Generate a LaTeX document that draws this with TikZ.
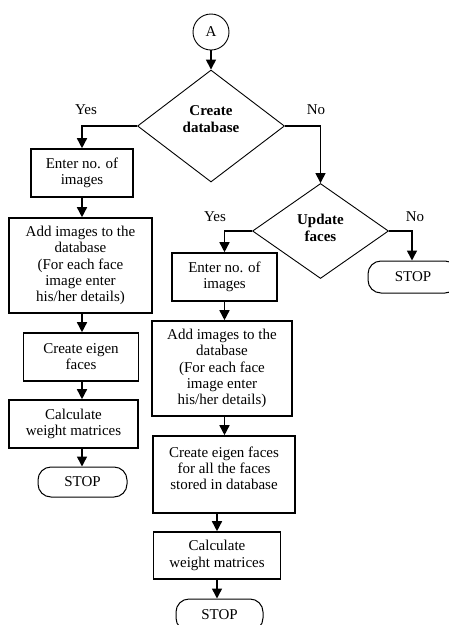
\documentclass[tikz,border=0pt]{standalone}
\usepackage{fontspec}
\setmainfont{Liberation Serif}
\usetikzlibrary{shapes.geometric,arrows.meta}
\begin{document}
\begin{tikzpicture}[x=1pt,y=-1pt,
  every node/.style={font=\fontsize{15}{16.2}\selectfont},
  box/.style={draw,line width=1.6pt,inner sep=0pt,align=center},
  dec/.style={draw,diamond,line width=0.9pt,inner sep=0pt},
  dtext/.style={align=center,font=\fontsize{15}{17}\selectfont\bfseries},
  term/.style={draw,rounded corners=13pt,line width=1pt,inner sep=0pt},
  conn/.style={draw,circle,line width=0.9pt,inner sep=0pt,minimum size=36pt},
  arr/.style={line width=1.5pt,-{Triangle[length=10pt,width=10pt]}},
  lbl/.style={inner sep=0pt}
]
\useasboundingbox (0,0) rectangle (448,625);

% connector
\node[conn] (A) at (211,32) {A};

% decisions
\node[dec,minimum width=147pt,minimum height=112pt,
  label={[dtext,yshift=7pt]center:Create\\database}] (D1) at (211,126) {};
\node[dec,minimum width=136pt,minimum height=95pt,
  label={[dtext,yshift=3.5pt]center:Update\\faces}] (D2) at (320.5,231) {};

% left column
\node[box,minimum width=102pt,minimum height=48pt] (L1) at (82,173) {Enter no. of\\images};
\node[box,minimum width=143pt,minimum height=95pt] (L2) at (80.5,265.5)
  {Add images to the\\database\\(For each face\\image enter\\his/her details)};
\node[box,minimum width=115pt,minimum height=48pt] (L3) at (81,357) {Create eigen\\faces};
\node[box,minimum width=129pt,minimum height=48pt] (L4) at (73.5,424) {Calculate\\weight matrices};
\node[term,minimum width=89pt,minimum height=30pt] (LS) at (82.5,482) {STOP};

% right column
\node[box,minimum width=105pt,minimum height=48pt] (R1) at (224.5,277) {Enter no. of\\images};
\node[box,minimum width=140pt,minimum height=95pt] (R2) at (222,368.5)
  {Add images to the\\database\\(For each face\\image enter\\his/her details)};
\node[box,minimum width=142pt,minimum height=77pt,
  label={[align=center,yshift=6pt]center:Create eigen faces\\for all the faces\\stored in database}] (R3) at (224,474.5) {};
\node[box,minimum width=127pt,minimum height=47pt] (R4) at (217,555.5) {Calculate\\weight matrices};
\node[term,minimum width=87pt,minimum height=32pt] (RS) at (219.5,615) {STOP};
\node[term,minimum width=90pt,minimum height=32pt] (XS) at (413,277) {STOP};

% branch labels
\node[lbl] (y1) at (86,110) {Yes};
\node[lbl] (n1) at (316,110) {No};
\node[lbl] (y2) at (215,217) {Yes};
\node[lbl] (n2) at (415,217) {No};

% connectors
\draw[arr] (A.south) -- (D1.north);
\draw[arr] (D1.west) -| (L1.north);
\draw[arr] (D1.east) -| (D2.north);
\draw[arr] (L1.south) -- (L1.south |- L2.north);
\draw[arr] (L2.south -| L1.south) -- (L3.north -| L1.south);
\draw[arr] (L3.south -| L1.south) -- (L4.north -| L1.south);
\draw[arr] (L4.south -| L1.south) -- (LS.north -| L1.south);

\draw[arr] (D2.west) -| (R1.north);
\draw[arr] (D2.east) -| ([xshift=-1pt]XS.north);
\draw[arr] (R1.south) -- (R1.south |- R2.north);
\draw[arr] (R2.south -| R1.south) -- (R3.north -| R1.south);
\draw[arr] (R4.north |- R3.south) -- (R4.north);
\draw[arr] (R4.south) -- (R4.south |- RS.north);
\end{tikzpicture}
\end{document}
